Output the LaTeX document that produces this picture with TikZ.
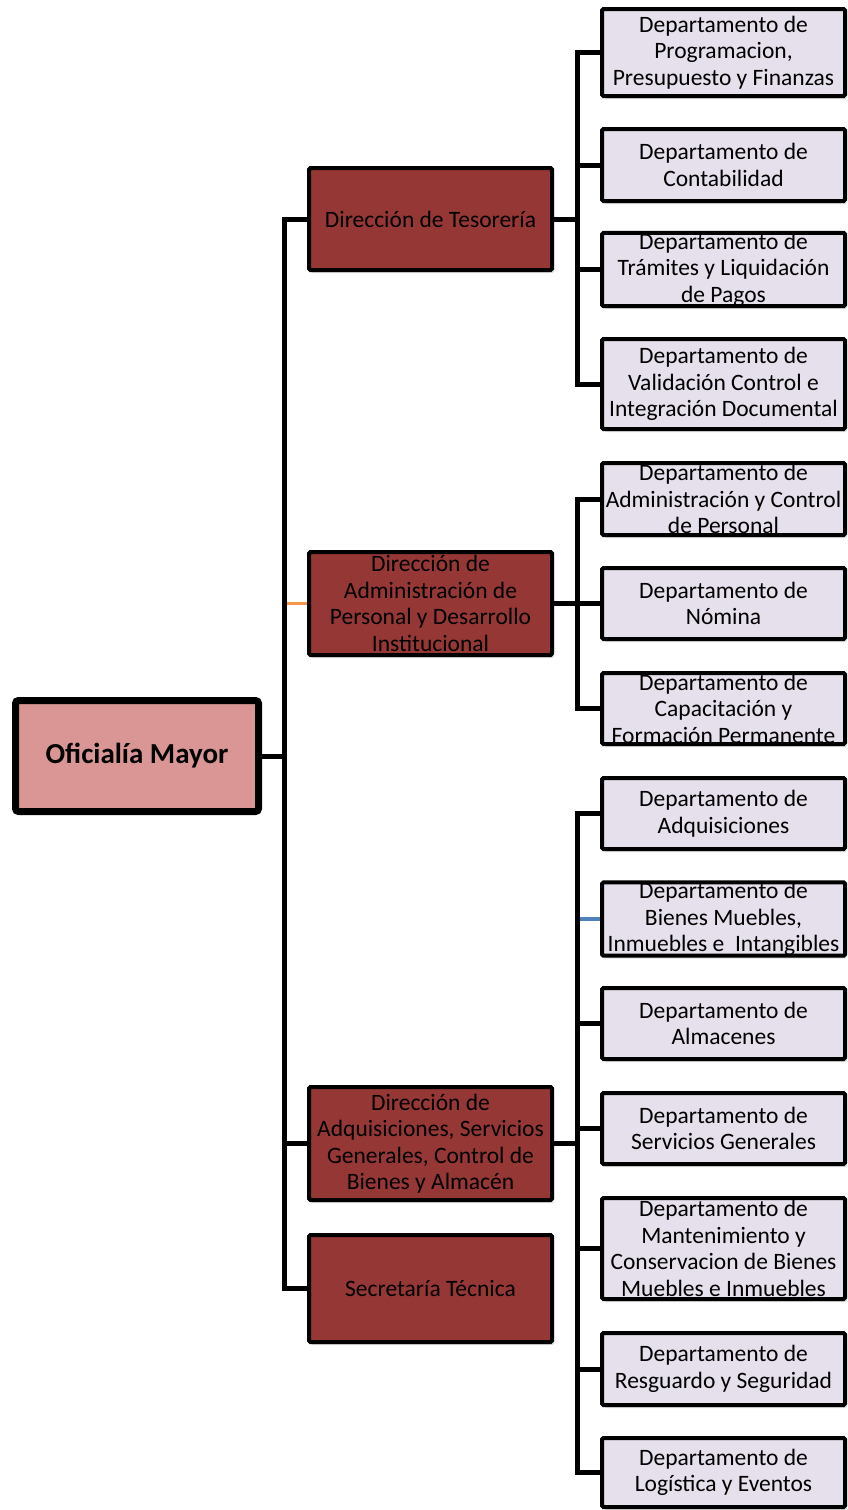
\documentclass[tikz,border=0pt]{standalone}
\usepackage{fontspec}
\setmainfont{Carlito}
\usetikzlibrary{shadows}
\definecolor{rootred}{RGB}{217,150,148}
\definecolor{dirred}{RGB}{149,55,53}
\definecolor{deptlila}{RGB}{230,224,236}
\definecolor{orgorange}{RGB}{247,150,70}
\definecolor{orgblue}{RGB}{79,129,189}
\tikzset{
  box/.style={draw=black, rectangle, rounded corners=1.5pt, align=center,
    inner xsep=2pt, inner ysep=0pt, font=\fontsize{23.5}{26.5}\selectfont,
    drop shadow={opacity=0.25, shadow xshift=2pt, shadow yshift=-3pt}},
  rootbox/.style={box, line width=7pt, fill=rootred, rounded corners=3pt,
    minimum width=243pt, minimum height=111pt,
    font=\bfseries\fontsize{29}{33}\selectfont},
  dirbox/.style={box, line width=4pt, fill=dirred, minimum width=243pt},
  deptbox/.style={box, line width=4pt, fill=deptlila, minimum width=243pt},
  conn/.style={draw=black, line width=5pt},
}
\begin{document}
\begin{tikzpicture}[x=1pt,y=-1pt]
\useasboundingbox (0,0) rectangle (847,1510);
% root and directions
\node[rootbox] (root) at (137,756) {Oficialía Mayor};
\node[dirbox, minimum height=102pt] (tes) at (430.5,219) {Dirección de Tesorería};
\node[dirbox, minimum height=103pt] (adm) at (430.5,603.5) {Dirección de\\Administración de\\Personal y Desarrollo\\Institucional};
\node[dirbox, minimum height=113pt] (adq) at (430.5,1143.5) {Dirección de\\Adquisiciones, Servicios\\Generales, Control de\\Bienes y Almacén};
\node[dirbox, minimum height=107pt] (sec) at (430.5,1288.5) {Secretaría Técnica};
% departments
\node[deptbox, minimum height=87pt] (d1) at (723.5,52.5) {Departamento de\\Programacion,\\Presupuesto y Finanzas};
\node[deptbox, minimum height=72pt] (d2) at (723.5,165) {Departamento de\\Contabilidad};
\node[deptbox, minimum height=71pt] (d3) at (723.5,269.5) {Departamento de\\Trámites y Liquidación\\de Pagos};
\node[deptbox, minimum height=90pt] (d4) at (723.5,384) {Departamento de\\Validación Control e\\Integración Documental};
\node[deptbox, minimum height=72pt] (d5) at (723.5,499) {Departamento de\\Administración y Control\\de Personal};
\node[deptbox, minimum height=71pt] (d6) at (723.5,603.5) {Departamento de\\Nómina};
\node[deptbox, minimum height=71pt] (d7) at (723.5,708.5) {Departamento de\\Capacitación y\\Formación Permanente};
\node[deptbox, minimum height=71pt] (d8) at (723.5,813.5) {Departamento de\\Adquisiciones};
\node[deptbox, minimum height=72pt] (d9) at (723.5,919) {Departamento de\\Bienes Muebles,\\Inmuebles e\ \ Intangibles};
\node[deptbox, minimum height=71pt] (d10) at (723.5,1023.5) {Departamento de\\Almacenes};
\node[deptbox, minimum height=71pt] (d11) at (723.5,1128.5) {Departamento de\\Servicios Generales};
\node[deptbox, minimum height=101pt] (d12) at (723.5,1248.5) {Departamento de\\Mantenimiento y\\Conservacion de Bienes\\Muebles e Inmuebles};
\node[deptbox, minimum height=72pt] (d13) at (723.5,1369) {Departamento de\\Resguardo y Seguridad};
\node[deptbox, minimum height=69pt] (d14) at (723.5,1472.5) {Departamento de\\Logística y Eventos};
% trunk and buses
\coordinate (trk) at (284,756);
\coordinate (bus1) at (577,219);
\coordinate (bus2) at (577,603.5);
\coordinate (bus3) at (577,1143.5);
\draw[conn, draw=orgorange, line width=3pt] (trk) |- (adm.west);
\draw[conn, draw=orgblue, line width=4pt] (bus3) |- (d9.west);
\draw[conn] (root.east) -- (trk);
\foreach \n in {tes,adq,sec}
  \draw[conn] (trk) |- (\n.west);
\draw[conn] (tes.east) -- (bus1);
\foreach \n in {d1,d2,d3,d4}
  \draw[conn] (bus1) |- (\n.west);
\draw[conn] (adm.east) -- (bus2);
\foreach \n in {d5,d6,d7}
  \draw[conn] (bus2) |- (\n.west);
\draw[conn] (adq.east) -- (bus3);
\foreach \n in {d8,d10,d11,d12,d13,d14}
  \draw[conn] (bus3) |- (\n.west);
\end{tikzpicture}
\end{document}
